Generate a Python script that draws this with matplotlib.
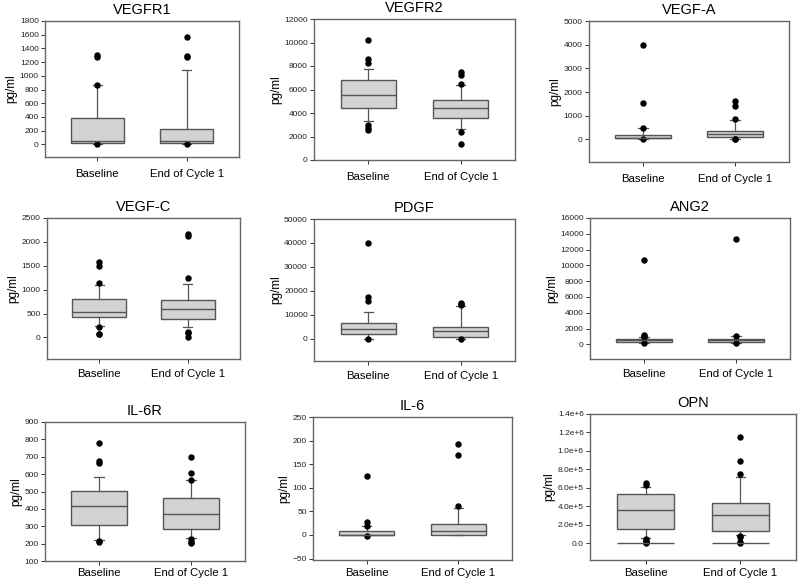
import matplotlib
matplotlib.use("Agg")
import matplotlib.pyplot as plt

plt.rcParams['font.family'] = ['Liberation Sans', 'DejaVu Sans']

categories = ["Baseline", "End of Cycle 1"]
titles = ["VEGFR1", "VEGFR2", "VEGF-A", "VEGF-C", "PDGF", "ANG2", "IL-6R", "IL-6", "OPN"]

# per panel: [Baseline, End of Cycle 1]
q1 = [[24, 24], [4454, 3574], [56, 99], [424, 396], [1950, 975], [338, 295],
      [309, 282], [0, 0], [1.55e5, 1.30e5]]
med = [[44, 54], [5504, 4397], [70, 211], [528, 590], [4039, 3200], [506, 548],
       [415, 372], [0, 7.7], [3.57e5, 3.10e5]]
q3 = [[390, 224], [6780, 5106], [169, 352], [812, 778], [6546, 5153], [633, 675],
      [503, 463], [7.7, 22.5], [5.31e5, 4.37e5]]
whislo = [[10, 10], [3290, 2638], [20, 40], [236, 215], [100, 100], [169, 200],
          [221, 232], [0, 0], [5.4e4, 9.0e4]]
whishi = [[865, 1078], [7716, 6355], [493, 817], [1104, 1125], [11142, 13649], [886, 1013],
          [585, 566], [18, 57], [6.06e5, 7.22e5]]
fliers = [
    [[1300, 1270, 870, 0], [1565, 1295, 1280, 5]],
    [[10200, 8620, 8290, 2950, 2750, 2560], [7460, 7260, 6440, 2360, 1390]],
    [[3970, 1520, 500, 0], [1640, 1420, 860, 30, 10]],
    [[1580, 1490, 1140, 210, 80, 70], [2170, 2120, 1250, 125, 100, 0]],
    [[39830, 17690, 16020, 0], [15180, 14600, 14000, 0]],
    [[10630, 1140, 1000, 900, 150], [13380, 1055, 150]],
    [[779, 677, 662, 217, 210], [697, 605, 564, 225, 210, 202]],
    [[124.6, 28, 19, -2], [192, 170, 61]],
    [[6.5e5, 6.3e5, 5.0e4, 3.0e4, 1.0e4, 0], [1.152e6, 8.95e5, 7.47e5, 8.0e4, 7.0e4, 1.0e4, 5.0e3]],
]
# extra horizontal lines drawn across the box width (OPN panel)
extra_lines = [None, None, None, None, None, None, None, None, [0, 0]]

ylims = [(-185, 1800), (0, 12000), (-950, 5000), (-450, 2500), (-9200, 50000),
         (-1860, 16000), (100, 900), (-53, 250), (-1.8e5, 1.4e6)]
yticks = [list(range(0, 1801, 200)), list(range(0, 12001, 2000)), list(range(0, 5001, 1000)),
          list(range(0, 2501, 500)), list(range(0, 50001, 10000)), list(range(0, 16001, 2000)),
          list(range(100, 901, 100)), list(range(-50, 251, 50)),
          [0, 2e5, 4e5, 6e5, 8e5, 1e6, 1.2e6, 1.4e6]]
opn_ticklabels = ["0.0", "2.0e+5", "4.0e+5", "6.0e+5", "8.0e+5", "1.0e+6", "1.2e+6", "1.4e+6"]

# axes rectangles in pixels: left, right, top, bottom
W, H = 800, 582
rects = [(45, 239, 21, 157), (314, 515, 19, 160), (589, 789, 21, 162),
         (47, 240, 218, 359), (314, 515, 219, 361), (590, 790, 218, 359),
         (45, 245, 422, 561), (313, 512, 417, 560), (590, 796, 414, 560)]
xpads = [6, 6, 6, 4, 4, 4, 2.4, 2.4, 2.4]

fig = plt.figure(figsize=(W / 100, H / 100), dpi=100)
positions = [1, 2]
edge = "#555555"
for i in range(9):
    l, r, t, b = rects[i]
    ax = fig.add_axes([l / W, 1 - b / H, (r - l) / W, (b - t) / H])
    stats = []
    for j in range(2):
        stats.append(dict(q1=q1[i][j], med=med[i][j], q3=q3[i][j],
                          whislo=whislo[i][j], whishi=whishi[i][j],
                          fliers=fliers[i][j], label=categories[j]))
    ax.bxp(stats, positions=positions, widths=0.6, capwidths=0.1, patch_artist=True,
           showfliers=True,
           boxprops=dict(facecolor="#d3d3d3", edgecolor=edge, linewidth=1.0),
           medianprops=dict(color=edge, linewidth=1.0),
           whiskerprops=dict(color=edge, linewidth=0.9),
           capprops=dict(color=edge, linewidth=0.9),
           flierprops=dict(marker="o", markerfacecolor="black", markeredgecolor="black",
                           markersize=3.6, linestyle="none"))
    if extra_lines[i] is not None:
        for j in range(2):
            ax.hlines(extra_lines[i][j], positions[j] - 0.3, positions[j] + 0.3,
                      color=edge, linewidth=1.0, zorder=3)
    ax.set_xlim(1 - 0.27 / 0.46, 2 + 0.27 / 0.46)
    ax.set_ylim(*ylims[i])
    ax.set_yticks(yticks[i])
    if i == 8:
        ax.set_yticklabels(opn_ticklabels)
    ax.set_xticks(positions)
    ax.set_xticklabels(categories, fontsize=8.2)
    ax.tick_params(axis="y", labelsize=6, length=3, width=0.7, pad=1.5, colors="#333333",
                   labelcolor="#222222")
    ax.tick_params(axis="x", length=3, width=0.7, pad=xpads[i], colors="#333333",
                   labelcolor="black")
    for s in ax.spines.values():
        s.set_color("#666666")
        s.set_linewidth(1.0)
    ax.set_title(titles[i], fontsize=10.5, pad=5)
    ax.set_ylabel("pg/ml", fontsize=8.5, labelpad=1.5)

fig.savefig("out.png", dpi=100)
